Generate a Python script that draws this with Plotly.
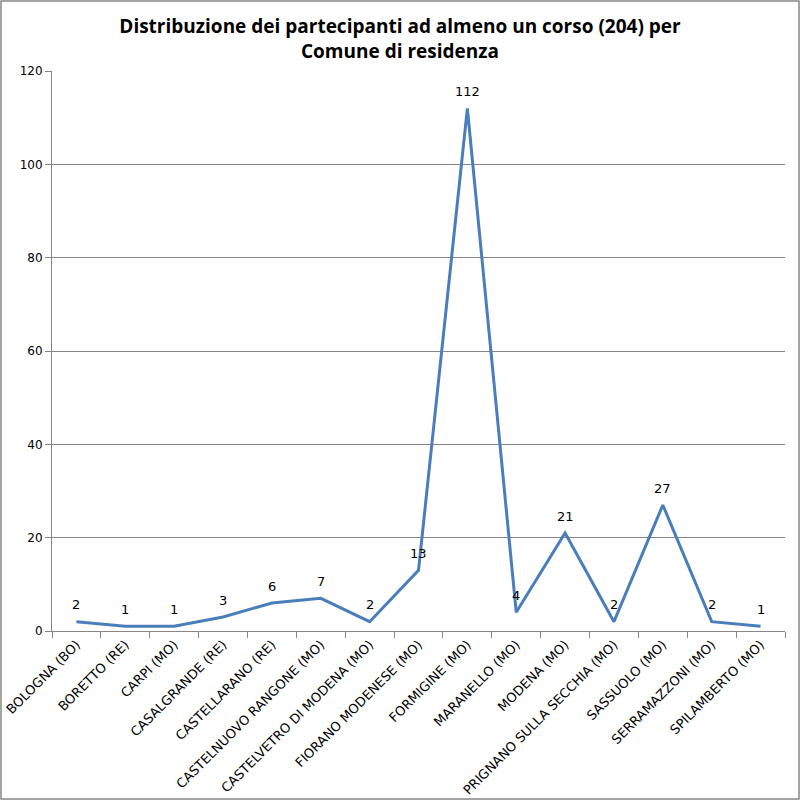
import plotly.graph_objects as go

categories = ["BOLOGNA (BO)", "BORETTO (RE)", "CARPI (MO)", "CASALGRANDE (RE)",
              "CASTELLARANO (RE)", "CASTELNUOVO RANGONE (MO)", "CASTELVETRO DI MODENA (MO)",
              "FIORANO MODENESE (MO)", "FORMIGINE (MO)", "MARANELLO (MO)", "MODENA (MO)",
              "PRIGNANO SULLA SECCHIA (MO)", "SASSUOLO (MO)", "SERRAMAZZONI (MO)",
              "SPILAMBERTO (MO)"]
values = [2, 1, 1, 3, 6, 7, 2, 13, 112, 4, 21, 2, 27, 2, 1]
y_ticks = [0, 20, 40, 60, 80, 100, 120]

W, H = 800, 800
L, R, T, B = 52, 15, 71, 169
pw, ph = W - L - R, H - T - B

fig = go.Figure()
fig.add_trace(go.Scatter(
    x=categories, y=values, mode="lines",
    line=dict(color="#4A7EBB", width=3),
    cliponaxis=False, hoverinfo="skip",
))

for c, v in zip(categories, values):
    fig.add_annotation(x=c, y=v, text=str(v), showarrow=False,
                       yshift=17, font=dict(family="DejaVu Sans", size=13, color="black"))

fig.update_layout(
    width=W, height=H,
    margin=dict(l=L, r=R, t=T, b=B),
    paper_bgcolor="white", plot_bgcolor="white",
    showlegend=False,
    title=dict(
        text="Distribuzione dei partecipanti ad almeno un corso (204) per<br>Comune di residenza",
        x=0.5, xref="container", xanchor="center",
        y=1 - 33 / H, yref="container", yanchor="middle",
        font=dict(family="Open Sans", size=19, color="black", weight="bold"),
    ),
    xaxis=dict(
        type="category", tickangle=-45, tickson="boundaries",
        ticks="outside", ticklen=6, tickcolor="#868686",
        showline=True, linecolor="#868686", linewidth=1,
        showgrid=False, range=[-0.5, len(categories) - 0.5],
        tickfont=dict(family="DejaVu Sans", size=13, color="black"),
        automargin=False, fixedrange=True,
    ),
    yaxis=dict(
        range=[0, 120], tickvals=y_ticks,
        ticks="outside", ticklen=6, tickcolor="#868686",
        showline=True, linecolor="#868686", linewidth=1,
        showgrid=True, gridcolor="#868686", gridwidth=1,
        zeroline=False,
        tickfont=dict(family="DejaVu Sans", size=12, color="black"),
        automargin=False, fixedrange=True,
    ),
)

# outer chart border
fig.add_shape(type="rect", xref="paper", yref="paper",
              x0=-(L - 1) / pw, x1=1 + (R - 1) / pw,
              y0=-(B - 1) / ph, y1=1 + (T - 1) / ph,
              line=dict(color="#868686", width=1.5), fillcolor="rgba(0,0,0,0)")

fig.write_html("out.html", config={"displayModeBar": False},
               post_script="document.body.style.margin='0';document.body.style.overflow='hidden';")
